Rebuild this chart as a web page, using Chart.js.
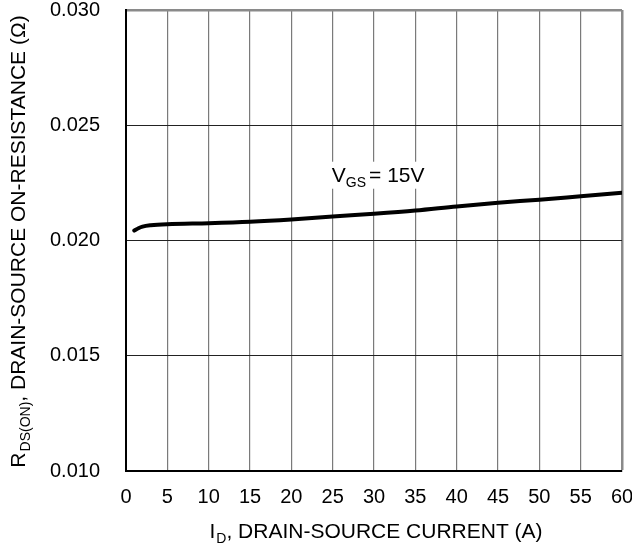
<!DOCTYPE html>
<html>
<head>
<meta charset="utf-8">
<script src="https://cdn.jsdelivr.net/npm/chart.js@4"></script>
<style>
  html, body { margin: 0; padding: 0; background: #fff; }
  #wrap { width: 632px; height: 550px; position: relative; }
</style>
</head>
<body>
<div id="wrap"><canvas id="rds"></canvas></div>
<script>
// Drain current, A
const currentA = [1, 1.5, 2, 3, 5, 10, 15, 20, 25, 30, 35, 40, 45, 50, 55, 60];
// On-resistance at VGS = 15 V, ohms
const rdsOn = [0.02043, 0.02053, 0.02060, 0.02066, 0.02071, 0.02075, 0.02081, 0.02091,
               0.02104, 0.02116, 0.02130, 0.02148, 0.02164, 0.02177, 0.02192, 0.02207];
// Axis tick labels
const xTickLabels = ['0', '5', '10', '15', '20', '25', '30', '35', '40', '45', '50', '55', '60'];
const yTickLabels = ['0.010', '0.015', '0.020', '0.025', '0.030'];
// Curve label
const curveLabel = { main: 'V', sub: 'GS', rest: '= 15V', x: 24.9, y: 0.02255 };

const FONT = '"Liberation Sans", Arial, Helvetica, sans-serif';

// Draws a run of text pieces (normal + subscript) starting at (0,0) on the current transform
function drawRuns(ctx, runs, measureOnly) {
  let x = 0;
  for (const r of runs) {
    ctx.font = r.size + 'px ' + FONT;
    if (!measureOnly) ctx.fillText(r.text, x + (r.dx || 0), r.dy || 0);
    x += ctx.measureText(r.text).width + (r.dx || 0);
  }
  return x;
}

const titlesPlugin = {
  id: 'titlesPlugin',
  afterDraw(chart) {
    const { ctx, chartArea: a } = chart;
    ctx.save();
    ctx.fillStyle = '#000';
    ctx.textBaseline = 'alphabetic';
    ctx.textAlign = 'left';

    // x-axis title
    const xRuns = [
      { text: 'I', size: 21 },
      { text: 'D', size: 14, dy: 5, dx: 1 },
      { text: ', DRAIN-SOURCE CURRENT (A)', size: 21 }
    ];
    const wx = drawRuns(ctx, xRuns, true);
    ctx.save();
    ctx.translate((a.left + a.right) / 2 + 2 - wx / 2, 538);
    drawRuns(ctx, xRuns, false);
    ctx.restore();

    // y-axis title (rotated)
    const yRuns = [
      { text: 'R', size: 21 },
      { text: 'DS(ON)', size: 14, dy: 5, dx: 1 },
      { text: ', DRAIN-SOURCE ON-RESISTANCE (Ω)', size: 21 }
    ];
    const wy = drawRuns(ctx, yRuns, true);
    ctx.save();
    ctx.translate(25, (a.top + a.bottom) / 2 + 1 + wy / 2);
    ctx.rotate(-Math.PI / 2);
    drawRuns(ctx, yRuns, false);
    ctx.restore();
    ctx.restore();
  },
  afterDatasetsDraw(chart) {
    // curve label with a white box under it
    const { ctx, scales } = chart;
    const px = scales.x.getPixelForValue(curveLabel.x);
    const py = scales.y.getPixelForValue(curveLabel.y);
    const runs = [
      { text: curveLabel.main, size: 21 },
      { text: curveLabel.sub, size: 14, dy: 5, dx: 0 },
      { text: curveLabel.rest, size: 21, dx: 3 }
    ];
    ctx.save();
    const w = drawRuns(ctx, runs, true);
    ctx.fillStyle = '#fff';
    ctx.fillRect(px - 3, py - 20, w + 6, 27);
    ctx.fillStyle = '#000';
    ctx.textBaseline = 'alphabetic';
    ctx.textAlign = 'left';
    ctx.translate(px, py);
    drawRuns(ctx, runs, false);
    ctx.restore();
  }
};

new Chart(document.getElementById('rds'), {
  type: 'line',
  data: {
    datasets: [{
      data: currentA.map((x, i) => ({ x: x, y: rdsOn[i] })),
      borderColor: '#000',
      borderWidth: 4,
      pointRadius: 0,
      fill: false,
      cubicInterpolationMode: 'monotone',
      borderCapStyle: 'round'
    }]
  },
  options: {
    responsive: true,
    maintainAspectRatio: false,
    animation: false,
    layout: { padding: { top: 10, right: 10, left: 0, bottom: 0 } },
    plugins: { legend: { display: false }, tooltip: { enabled: false }, title: { display: false } },
    scales: {
      x: {
        type: 'linear',
        min: 0, max: 60,
        ticks: {
          stepSize: 5,
          padding: 14,
          color: '#000',
          font: { family: FONT, size: 20 },
          maxRotation: 0,
          callback: (v) => xTickLabels[Math.round(v / 5)] ?? ''
        },
        grid: {
          drawTicks: false,
          color: (c) => (c.tick && c.tick.value === 60) ? '#8a8a8a' : '#7a7a7a',
          lineWidth: (c) => (c.tick && c.tick.value === 60) ? 2.5 : 1.2
        },
        border: { display: true, color: '#000', width: 2 },
        afterFit: (s) => { s.height = 79; s.paddingLeft = 0; s.paddingRight = 0; }
      },
      y: {
        type: 'linear',
        min: 0.010, max: 0.030,
        ticks: {
          stepSize: 0.005,
          padding: 26,
          color: '#000',
          font: { family: FONT, size: 20 },
          callback: (v) => yTickLabels[Math.round((v - 0.010) / 0.005)] ?? ''
        },
        grid: {
          drawTicks: false,
          color: (c) => (c.tick && Math.abs(c.tick.value - 0.030) < 1e-9) ? '#8a8a8a' : '#222',
          lineWidth: (c) => (c.tick && Math.abs(c.tick.value - 0.030) < 1e-9) ? 2.5 : 1
        },
        border: { display: true, color: '#000', width: 2 },
        afterFit: (s) => { s.width = 126; s.paddingTop = 0; s.paddingBottom = 0; }
      }
    }
  },
  plugins: [titlesPlugin]
});
</script>
</body>
</html>
